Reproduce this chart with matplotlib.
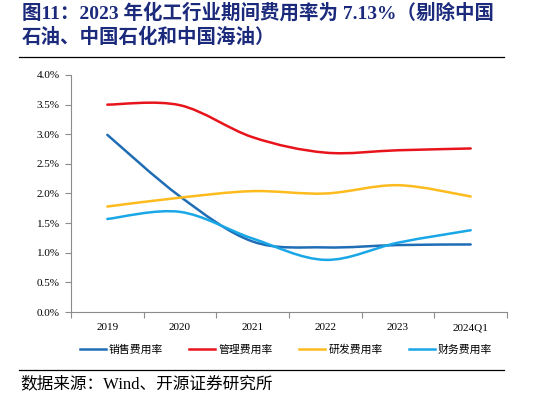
import matplotlib

matplotlib.use("Agg")
import matplotlib.pyplot as plt
from matplotlib.path import Path
from matplotlib.patches import PathPatch
from matplotlib.lines import Line2D

plt.rcParams["font.family"] = ["Liberation Serif", "Noto Sans CJK SC"]

categories = ["2019", "2020", "2021", "2022", "2023", "2024Q1"]
sales = [2.99, 1.95, 1.19, 1.09, 1.13, 1.14]
admin = [3.50, 3.49, 2.95, 2.69, 2.73, 2.76]
rnd = [1.78, 1.93, 2.04, 2.00, 2.14, 1.95]
finance = [1.57, 1.69, 1.24, 0.88, 1.17, 1.38]
series_names = ["销售费用率", "管理费用率", "研发费用率", "财务费用率"]
colors = ["#1f6db5", "#e8141c", "#fdbb1e", "#1aa7e6"]
yticks = [0.0, 0.5, 1.0, 1.5, 2.0, 2.5, 3.0, 3.5, 4.0]


def smooth_path(xs, ys):
    # Excel-style smoothed line: Catmull-Rom segments drawn as cubic Beziers
    pts = list(zip(xs, ys))
    n = len(pts)
    verts = [pts[0]]
    codes = [Path.MOVETO]
    for i in range(n - 1):
        p0 = pts[max(i - 1, 0)]
        p1 = pts[i]
        p2 = pts[i + 1]
        p3 = pts[min(i + 2, n - 1)]
        c1 = (p1[0] + (p2[0] - p0[0]) / 6, p1[1] + (p2[1] - p0[1]) / 6)
        c2 = (p2[0] - (p3[0] - p1[0]) / 6, p2[1] - (p3[1] - p1[1]) / 6)
        verts += [c1, c2, p2]
        codes += [Path.CURVE4] * 3
    return Path(verts, codes)


fig = plt.figure(figsize=(5.5, 3.97), dpi=100)
ax = fig.add_axes([71 / 550, 1 - 312 / 397, 436 / 550, 237 / 397])

x = list(range(len(categories)))
for vals, color in zip([sales, admin, rnd, finance], colors):
    ax.add_patch(PathPatch(smooth_path(x, vals), facecolor="none",
                           edgecolor=color, linewidth=1.8, capstyle="round"))

ax.set_xlim(-0.5, len(categories) - 0.5)
ax.set_ylim(0, 4.0)
ax.set_yticks(yticks)
ax.set_yticklabels([f"{v:.1f}%" for v in yticks], fontsize=8)
ax.set_xticks([i - 0.5 for i in range(len(categories) + 1)])
ax.set_xticklabels([])
ax.set_xticks(x, minor=True)
ax.set_xticklabels(categories, minor=True, fontsize=8)
ax.tick_params(axis="x", which="minor", length=0, pad=8)
ax.tick_params(axis="both", which="major", length=4, color="#8c8c8c", width=0.8)
ax.tick_params(axis="y", pad=4)
for side in ["top", "right"]:
    ax.spines[side].set_visible(False)
for side in ["left", "bottom"]:
    ax.spines[side].set_color("#8c8c8c")
    ax.spines[side].set_linewidth(0.8)

handles = [Line2D([], [], color=c, linewidth=1.8) for c in colors]
fig.legend(handles, series_names, loc="center", ncol=4,
           bbox_to_anchor=(286 / 550, 1 - 350 / 397), frameon=False,
           prop={"family": "Noto Sans CJK SC", "size": 7.8},
           handlelength=2.4, handletextpad=0.3, columnspacing=2.4)

title_color = "#1c2a7c"
fig.text(22 / 550, 1 - 13 / 397, "图11：2023 年化工行业期间费用率为 7.13%（剔除中国",
         fontsize=14, fontweight="bold", color=title_color, va="center", ha="left",
         family=["Liberation Serif", "Noto Sans CJK SC"])
fig.text(22 / 550, 1 - 37 / 397, "石油、中国石化和中国海油）",
         fontsize=14, fontweight="bold", color=title_color, va="center", ha="left",
         family=["Noto Sans CJK SC"])
fig.add_artist(Line2D([19 / 550, 504 / 550], [1 - 57 / 397] * 2, color="black", linewidth=0.9))
fig.add_artist(Line2D([19 / 550, 504 / 550], [1 - 370 / 397] * 2, color="black", linewidth=0.9))
fig.text(20 / 550, 1 - 384 / 397, "数据来源：Wind、开源证券研究所", fontsize=12,
         va="center", ha="left", family=["Liberation Serif", "Noto Sans CJK SC"])

fig.savefig("out.png", dpi=100)
